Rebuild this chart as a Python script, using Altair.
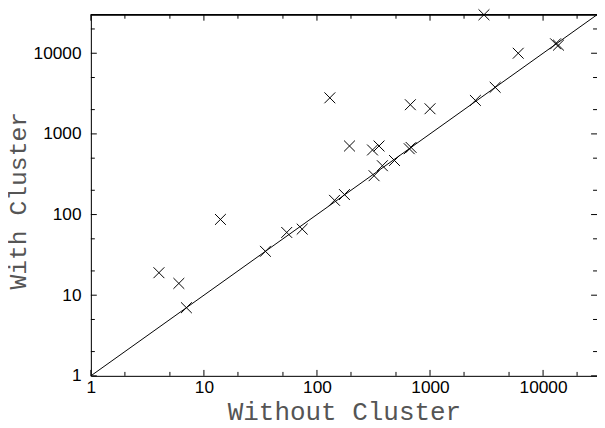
import altair as alt
import pandas as pd

# data
without_cluster = [4, 6, 7, 14, 35, 54, 74, 143, 175, 130, 194, 310, 354, 320, 379,
                   485, 655, 680, 670, 1000, 2520, 3770, 3000, 6030, 12900, 13700]
with_cluster = [19, 14, 7, 87, 35, 60, 66, 150, 177, 2800, 708, 632, 708, 303, 403,
                468, 655, 680, 2300, 2050, 2600, 3785, 30000, 10000, 13100, 12600]

diag_vals = [1, 30000]
major_ticks = [1, 10, 100, 1000, 10000]
minor_ticks = [2, 5, 20, 50, 200, 500, 2000, 5000, 20000]

W, H = 513, 366
DOMAIN = [1, 30000]
MAJ, MIN = 6, 4

pts = pd.DataFrame({"x": without_cluster, "y": with_cluster})
diag = pd.DataFrame({"x": diag_vals, "y": diag_vals})
maj_x = pd.DataFrame({"x": major_ticks})
min_x = pd.DataFrame({"x": minor_ticks})
maj_y = pd.DataFrame({"y": major_ticks})
min_y = pd.DataFrame({"y": minor_ticks})

label_font = "Liberation Sans"
title_font = "Liberation Mono"

x_enc = alt.X(
    "x:Q",
    scale=alt.Scale(type="log", domain=DOMAIN, nice=False),
    axis=alt.Axis(
        title="Without Cluster", values=major_ticks, format="d", grid=False,
        ticks=False, domainColor="black", domainWidth=1,
        labelFont=label_font, labelFontSize=17.5, labelColor="black",
        labelPadding=3, labelFlush=False, labelOverlap=False,
        titleFont=title_font, titleFontSize=26.3, titleFontWeight="normal",
        titleColor="#555", titleBaseline="alphabetic", titleY=44,
    ),
)
y_enc = alt.Y(
    "y:Q",
    scale=alt.Scale(type="log", domain=DOMAIN, nice=False),
    axis=alt.Axis(
        title="With Cluster", values=major_ticks, format="d", grid=False,
        ticks=False, domainColor="black", domainWidth=1,
        labelFont=label_font, labelFontSize=17.5, labelColor="black",
        labelPadding=10, labelFlush=False, labelOverlap=False,
        titleFont=title_font, titleFontSize=25, titleFontWeight="normal",
        titleColor="#555", titleBaseline="alphabetic", titleX=-66, titleY=188,
    ),
)

points = alt.Chart(pts).mark_point(
    shape="M-1,-1L1,1M-1,1L1,-1", size=121, filled=False,
    stroke="black", strokeWidth=1, opacity=1,
).encode(x=x_enc, y=y_enc)

line = alt.Chart(diag).mark_line(color="black", strokeWidth=1).encode(x=x_enc, y=y_enc)

def vticks(df, length):
    bottom = alt.Chart(df).mark_rule(color="black", strokeWidth=1).encode(
        x=x_enc, y=alt.value(H), y2=alt.value(H - length))
    top = alt.Chart(df).mark_rule(color="black", strokeWidth=1).encode(
        x=x_enc, y=alt.value(0), y2=alt.value(length))
    return [bottom, top]

def hticks(df, length):
    left = alt.Chart(df).mark_rule(color="black", strokeWidth=1).encode(
        y=y_enc, x=alt.value(0), x2=alt.value(length))
    right = alt.Chart(df).mark_rule(color="black", strokeWidth=1).encode(
        y=y_enc, x=alt.value(W), x2=alt.value(W - length))
    return [left, right]

top_border = alt.Chart(maj_x).mark_rule(color="black", strokeWidth=1).encode(
    x=alt.value(0), x2=alt.value(W), y=alt.value(0))

layers = [line, points, top_border]
layers += vticks(maj_x, MAJ) + vticks(min_x, MIN)
layers += hticks(maj_y, MAJ) + hticks(min_y, MIN)

chart = alt.layer(*layers).properties(
    width=W, height=H,
    autosize=alt.AutoSizeParams(type="none"),
    padding={"left": 84, "top": 4, "right": 0, "bottom": 50},
).configure_view(stroke=None).configure(background="white")

chart.save("out.html", embed_options={"renderer": "svg", "actions": False})
